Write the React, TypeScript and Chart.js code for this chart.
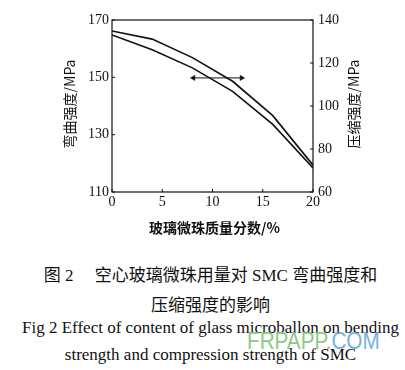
import React, { useEffect, useRef } from "react";
import { Chart, registerables } from "chart.js";

Chart.register(...registerables);

const xValues = [0, 4, 8, 12, 16, 20];
const bendingStrength = [164.8, 159.6, 153.3, 145.1, 133.6, 118.4];
const compressionStrength = [134.9, 131.1, 122.5, 111.5, 95.5, 72.5];
const arrowX = [8.1, 12.9];
const arrowY = [149.8, 149.8];
const xTitle = "玻璃微珠质量分数/%";
const leftTitle = "弯曲强度/MPa";
const rightTitle = "压缩强度/MPa";

const SERIF = "'Liberation Serif', 'Times New Roman', serif";
const CJK = "'Noto Sans CJK SC', sans-serif";

const framePlugin = {
  id: "framePlugin",
  afterDraw(chart: any) {
    const { ctx, chartArea, scales } = chart;
    const { left, right, top, bottom } = chartArea;
    ctx.save();
    ctx.strokeStyle = "#111";
    ctx.lineWidth = 1.2;
    ctx.strokeRect(left, top, right - left, bottom - top);
    ctx.lineWidth = 1;
    const tl = 3;
    scales.x.ticks.forEach((t: any) => {
      const px = scales.x.getPixelForValue(t.value);
      ctx.beginPath();
      ctx.moveTo(px, bottom);
      ctx.lineTo(px, bottom - tl);
      ctx.stroke();
    });
    scales.y.ticks.forEach((t: any) => {
      const py = scales.y.getPixelForValue(t.value);
      ctx.beginPath();
      ctx.moveTo(left, py);
      ctx.lineTo(left + tl, py);
      ctx.stroke();
    });
    scales.y1.ticks.forEach((t: any) => {
      const py = scales.y1.getPixelForValue(t.value);
      ctx.beginPath();
      ctx.moveTo(right, py);
      ctx.lineTo(right - tl, py);
      ctx.stroke();
    });
    // titles
    ctx.fillStyle = "#111";
    ctx.textAlign = "center";
    ctx.textBaseline = "middle";
    ctx.font = `bold 14px ${CJK}`;
    ctx.fillText(xTitle, (left + right) / 2 + 2, bottom + 36);
    const midY = (top + bottom) / 2 - 2;
    ctx.font = `14px ${CJK}`;
    ctx.save();
    ctx.translate(left - 42, midY);
    ctx.rotate(-Math.PI / 2);
    ctx.fillText(leftTitle, 0, 0);
    ctx.restore();
    ctx.save();
    ctx.translate(right + 41, midY);
    ctx.rotate(-Math.PI / 2);
    ctx.fillText(rightTitle, 0, 0);
    ctx.restore();
    ctx.restore();
  },
};

function ChartView() {
  const ref = useRef<HTMLCanvasElement | null>(null);
  useEffect(() => {
    if (!ref.current) return;
    const chart = new Chart(ref.current, {
      type: "line",
      data: {
        datasets: [
          {
            label: "bending",
            data: xValues.map((x, i) => ({ x, y: bendingStrength[i] })),
            yAxisID: "y",
            borderColor: "#111",
            borderWidth: 1.6,
            pointRadius: 0,
            tension: 0,
          },
          {
            label: "compression",
            data: xValues.map((x, i) => ({ x, y: compressionStrength[i] })),
            yAxisID: "y1",
            borderColor: "#111",
            borderWidth: 1.6,
            pointRadius: 0,
            tension: 0,
          },
          {
            label: "arrow",
            data: arrowX.map((x, i) => ({ x, y: arrowY[i] })),
            yAxisID: "y",
            borderColor: "#111",
            backgroundColor: "#111",
            borderWidth: 1,
            pointStyle: "triangle",
            pointRadius: 3,
            pointBorderWidth: 0.5,
            pointRotation: [-90, 90],
          } as any,
        ],
      },
      options: {
        responsive: false,
        animation: false,
        layout: { padding: { top: 20, left: 0, right: 0, bottom: 0 } },
        plugins: { legend: { display: false }, tooltip: { enabled: false } },
        scales: {
          x: {
            type: "linear",
            min: 0,
            max: 20,
            ticks: { stepSize: 5, color: "#111", font: { family: SERIF, size: 14 }, padding: 2, maxRotation: 0 },
            grid: { display: false, drawTicks: false },
            border: { display: false },
            afterFit: (s: any) => { s.height = 48; },
          },
          y: {
            position: "left",
            min: 110,
            max: 170,
            ticks: { stepSize: 20, color: "#111", font: { family: SERIF, size: 14 }, padding: 3 },
            grid: { display: false, drawTicks: false },
            border: { display: false },
            afterFit: (s: any) => { s.width = 112; },
          },
          y1: {
            position: "right",
            min: 60,
            max: 140,
            ticks: { stepSize: 20, color: "#111", font: { family: SERIF, size: 14 }, padding: 5 },
            grid: { display: false, drawTicks: false },
            border: { display: false },
            afterFit: (s: any) => { s.width = 92; },
          },
        },
      },
      plugins: [framePlugin],
    } as any);
    return () => chart.destroy();
  }, []);
  return <canvas ref={ref} width={405} height={240} style={{ position: "absolute", left: 0, top: 0 }} />;
}

const capLine = (top: number, text: string, font: string, size: number, extra: any = {}) => (
  <div
    style={{
      position: "absolute",
      left: 8,
      top,
      width: 405,
      textAlign: "center",
      fontFamily: font,
      fontSize: size,
      lineHeight: "20px",
      color: "#111",
      whiteSpace: "nowrap",
      ...extra,
    }}
  >
    {text}
  </div>
);

export default function App() {
  return (
    <div style={{ position: "absolute", left: 0, top: 0, width: 405, height: 370, background: "#fff", overflow: "hidden" }}>
      <ChartView />
      {capLine(266, "图 2\u3000 空心玻璃微珠用量对 SMC 弯曲强度和", `'Liberation Serif', 'Noto Sans CJK SC', serif`, 17)}
      {capLine(294, "压缩强度的影响", CJK, 17)}
      {capLine(318, "Fig 2 Effect of content of glass microballon on bending", SERIF, 17)}
      {capLine(345, "strength and compression strength of SMC", SERIF, 17)}
      <div
        style={{
          position: "absolute",
          left: 247,
          top: 328,
          fontFamily: "'Liberation Sans', Arial, sans-serif",
          fontSize: 23,
          lineHeight: "26px",
          whiteSpace: "nowrap",
          transform: "scaleX(0.9)",
          transformOrigin: "left center",
          opacity: 0.9,
        }}
      >
        <span style={{ color: "#82c476" }}>FRPAPP.</span>
        <span style={{ color: "#66aade" }}>COM</span>
      </div>
    </div>
  );
}
